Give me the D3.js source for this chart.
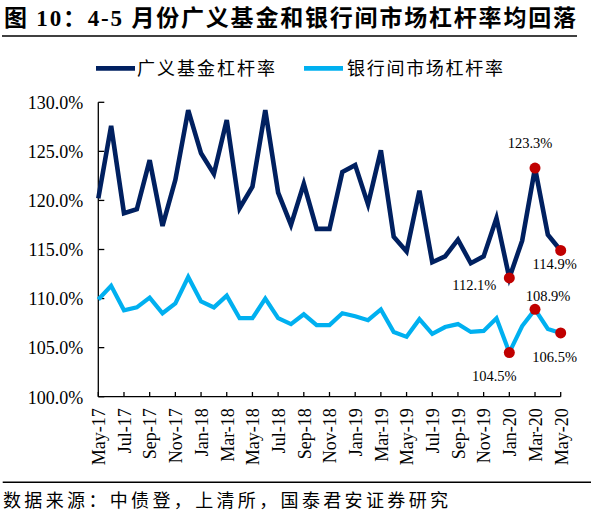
<!DOCTYPE html>
<html><head><meta charset="utf-8">
<script src="https://cdn.jsdelivr.net/npm/d3@7"></script>
<style>
html,body{margin:0;padding:0;background:#fff;}
svg{display:block;}
text{font-family:"Liberation Serif","Times New Roman","Noto Sans CJK SC",serif;fill:#000;}
</style></head>
<body>
<svg id="c" width="591" height="525"></svg>
<script>
const months = ["May-17","Jun-17","Jul-17","Aug-17","Sep-17","Oct-17","Nov-17","Dec-17","Jan-18","Feb-18","Mar-18","Apr-18","May-18","Jun-18","Jul-18","Aug-18","Sep-18","Oct-18","Nov-18","Dec-18","Jan-19","Feb-19","Mar-19","Apr-19","May-19","Jun-19","Jul-19","Aug-19","Sep-19","Oct-19","Nov-19","Dec-19","Jan-20","Feb-20","Mar-20","Apr-20","May-20"];
const fundLeverage = [120.2,127.6,118.7,119.1,124.1,117.4,122.1,129.2,124.8,122.7,128.2,119.2,121.4,129.2,120.8,117.5,121.7,117.1,117.1,122.9,123.6,119.6,125.1,116.3,114.8,121.0,113.7,114.3,116.0,113.6,114.3,118.2,112.1,115.9,123.3,116.5,114.9];
const interbankLeverage = [109.9,111.3,108.8,109.1,110.1,108.5,109.5,112.2,109.7,109.1,110.3,108.0,108.0,110.0,108.0,107.4,108.4,107.3,107.3,108.5,108.2,107.8,108.9,106.6,106.1,107.9,106.4,107.1,107.4,106.6,106.7,108.0,104.5,107.2,108.9,106.9,106.5];
const yTicks = [100,105,110,115,120,125,130];
const xTickLabels = ["May-17","Jul-17","Sep-17","Nov-17","Jan-18","Mar-18","May-18","Jul-18","Sep-18","Nov-18","Jan-19","Mar-19","May-19","Jul-19","Sep-19","Nov-19","Jan-20","Mar-20","May-20"];
const seriesNames = ["广义基金杠杆率","银行间市场杠杆率"];
const highlights = [
  {series:0, month:"Jan-20", label:"112.1%", dx:-35, dy:12},
  {series:0, month:"Mar-20", label:"123.3%", dx:-5, dy:-20},
  {series:0, month:"May-20", label:"114.9%", dx:-6, dy:19},
  {series:1, month:"Jan-20", label:"104.5%", dx:-15, dy:28},
  {series:1, month:"Mar-20", label:"108.9%", dx:13, dy:-8},
  {series:1, month:"May-20", label:"106.5%", dx:-6, dy:29}
];
const titleText = "图 10：4-5 月份广义基金和银行间市场杠杆率均回落";
const sourceText = "数据来源：中债登，上清所，国泰君安证券研究";
const colors = ["#002060","#00B0F0"];

const svg = d3.select("#c");
const x = d3.scalePoint().domain(months).range([98.3,560.7]);
const y = d3.scaleLinear().domain([100,130]).range([396.7,102.3]);

// title
svg.append("text").attr("x",4).attr("y",26).attr("font-size",23).attr("font-weight","bold")
  .attr("textLength",572).attr("lengthAdjust","spacing").text(titleText);
svg.append("line").attr("x1",2).attr("x2",577).attr("y1",36).attr("y2",36).attr("stroke","#000").attr("stroke-width",1.5);

// legend
const legendPos = [{x1:96,x2:135,tx:137,tl:138},{x1:304,x2:343,tx:347,tl:156}];
seriesNames.forEach((n,i)=>{
  const p = legendPos[i];
  svg.append("line").attr("x1",p.x1).attr("x2",p.x2).attr("y1",68.3).attr("y2",68.3)
    .attr("stroke",colors[i]).attr("stroke-width",4.7);
  svg.append("text").attr("x",p.tx).attr("y",68.5).attr("dominant-baseline","central")
    .attr("font-size",18).attr("textLength",p.tl).attr("lengthAdjust","spacing").text(n);
});

// axes
const yAxis = d3.axisLeft(y).tickValues(yTicks).tickSize(0).tickPadding(15)
  .tickFormat(d=>d.toFixed(1)+"%");
const gy = svg.append("g").attr("transform","translate(98.3,0)").call(yAxis);
gy.select(".domain").remove();
gy.selectAll("text").attr("font-size",18).attr("font-family",null).attr("dy","0.35em");
svg.append("g").selectAll("line").data(yTicks).join("line")
  .attr("x1",98.3).attr("x2",104.3).attr("y1",d=>y(d)).attr("y2",d=>y(d)).attr("stroke","#000").attr("stroke-width",1.3);

const xAxis = d3.axisBottom(x).tickValues(xTickLabels).tickSize(0).tickPadding(0);
const gx = svg.append("g").attr("transform","translate(0,396.7)").call(xAxis);
gx.select(".domain").remove();
gx.selectAll("text").attr("font-size",18).attr("font-family",null)
  .attr("transform","rotate(-90)").attr("text-anchor","end")
  .attr("x",-11.5).attr("y",0).attr("dy","0.35em");
svg.append("g").selectAll("line").data(xTickLabels).join("line")
  .attr("x1",d=>x(d)).attr("x2",d=>x(d)).attr("y1",396.7).attr("y2",392).attr("stroke","#000").attr("stroke-width",1.3);

svg.append("line").attr("x1",98.3).attr("x2",98.3).attr("y1",102.3).attr("y2",396.7).attr("stroke","#000").attr("stroke-width",1.3);
svg.append("line").attr("x1",98.3).attr("x2",560.7).attr("y1",396.7).attr("y2",396.7).attr("stroke","#000").attr("stroke-width",1.3);

// lines
const data = [fundLeverage, interbankLeverage];
const lineGen = d3.line().x((d,i)=>x(months[i])).y(d=>y(d));
const widths = [4.6,4.2];
data.forEach((s,i)=>{
  svg.append("path").datum(s).attr("d",lineGen).attr("fill","none")
    .attr("stroke",colors[i]).attr("stroke-width",widths[i]).attr("stroke-linejoin","miter");
});

// highlights
highlights.forEach(h=>{
  const idx = months.indexOf(h.month);
  const cx = x(h.month), cy = y(data[h.series][idx]);
  svg.append("circle").attr("cx",cx).attr("cy",cy).attr("r",5.5).attr("fill","#C00000");
  svg.append("text").attr("x",cx+h.dx).attr("y",cy+h.dy).attr("text-anchor","middle")
    .attr("font-size",14.5).text(h.label);
});

// source
svg.append("line").attr("x1",2.7).attr("x2",591).attr("y1",482.3).attr("y2",482.3).attr("stroke","#000").attr("stroke-width",1.5);
svg.append("text").attr("x",3).attr("y",501).attr("dominant-baseline","central").attr("font-size",18)
  .attr("textLength",445).attr("lengthAdjust","spacing").text(sourceText);
</script>
</body></html>
